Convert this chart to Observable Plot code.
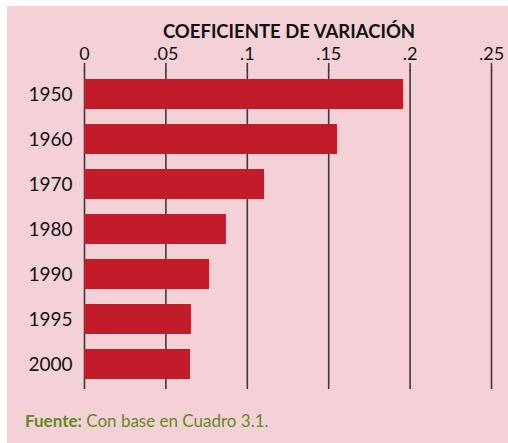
<!DOCTYPE html>
<html>
<head>
<meta charset="utf-8">
<script src="https://cdn.jsdelivr.net/npm/d3@7"></script>
<script src="https://cdn.jsdelivr.net/npm/@observablehq/plot@0.6"></script>
<style>
  html, body { margin: 0; padding: 0; background: #ffffff; }
  #wrap { position: relative; width: 508px; height: 443px; overflow: hidden; }
  #bg { position: absolute; left: 7px; top: 6px; right: 0; bottom: 0; background: #f4d1d6; }
  #title { position: absolute; left: 84px; width: 410px; top: 22px; text-align: center;
           font-family: Lato, sans-serif; font-weight: 700; font-size: 18.5px; color: #111; line-height: 1; }
  #chart { position: absolute; left: 0; top: 0; }
  #source { position: absolute; left: 25px; top: 412px; font-family: Lato, sans-serif; font-size: 17px; color: #5e8a1f; line-height: 1.1; }
  #source b { font-weight: 700; }
</style>
</head>
<body>
<div id="wrap">
  <div id="bg"></div>
  <div id="chart"></div>
  <div id="title">COEFICIENTE DE VARIACIÓN</div>
  <div id="source"><b>Fuente:</b> Con base en Cuadro 3.1.</div>
</div>
<script>
const years = ["1950", "1960", "1970", "1980", "1990", "1995", "2000"];
const values = [0.196, 0.1554, 0.1106, 0.0872, 0.0768, 0.0657, 0.0651];
const tickValues = [0, 0.05, 0.1, 0.15, 0.2, 0.25];
const tickLabels = ["0", ".05", ".1", ".15", ".2", ".25"];

const data = years.map((y, i) => ({year: y, value: values[i]}));

const chart = Plot.plot({
  width: 508,
  height: 400,
  marginTop: 70,
  marginLeft: 84,
  marginRight: 17,
  marginBottom: 11,
  style: {background: "transparent", fontFamily: "Lato, sans-serif", color: "#111"},
  x: {domain: [0, 0.25], axis: null},
  y: {domain: years, axis: null, paddingInner: 0.325, paddingOuter: 0.17},
  marks: [
    Plot.ruleX(tickValues, {stroke: "#3f3838", strokeWidth: 1.6}),
    Plot.axisX({anchor: "top", ticks: tickValues, tickFormat: (d) => tickLabels[tickValues.indexOf(d)],
      tickSize: 8, tickPadding: 3, fontSize: 18, stroke: "#3f3838", strokeWidth: 1.6, label: null}),
    Plot.barX(data, {x: "value", y: "year", fill: "#c21b29"}),
    Plot.axisY({tickSize: 0, tickPadding: 12, fontSize: 19, label: null})
  ]
});
document.getElementById("chart").appendChild(chart);
</script>
</body>
</html>
